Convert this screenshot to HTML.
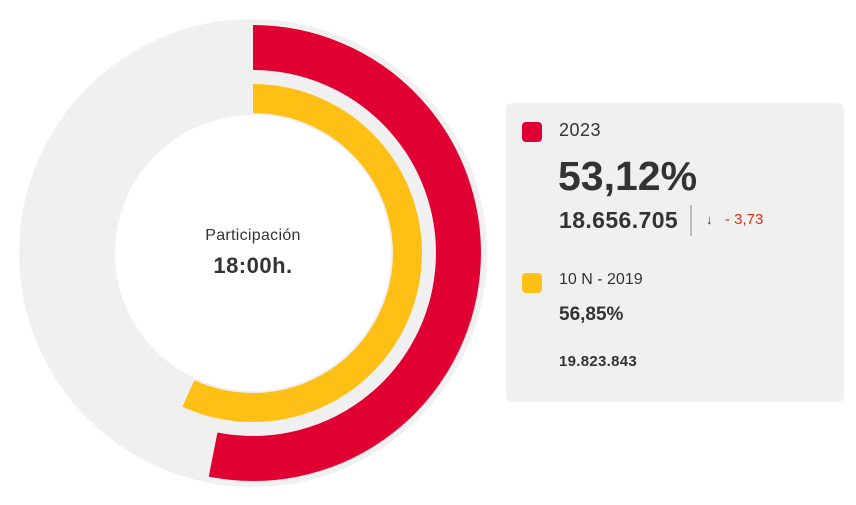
<!DOCTYPE html>
<html><head><meta charset="utf-8"><style>
body{margin:0;width:856px;height:505px;background:#fff;font-family:"Liberation Sans",sans-serif;position:relative;overflow:hidden}
.t{position:absolute;white-space:nowrap;color:#333}
</style></head><body>
<svg width="856" height="505" style="position:absolute;left:0;top:0">
<circle cx="253" cy="253" r="186" fill="none" stroke="#f0f0f0" stroke-width="96"/>
<path d="M253 47.5 A205.5 205.5 0 1 1 213.1 454.6" fill="none" stroke="#e00032" stroke-width="45" stroke-linejoin="round"/>
<path d="M253 98.5 A154.5 154.5 0 1 1 188.4 393.4" fill="none" stroke="#fec014" stroke-width="29"/>
<rect x="506" y="103" width="338" height="299" rx="6" fill="#f0f0f0"/>
<rect x="522" y="122" width="20" height="20" rx="4" fill="#e00032"/>
<rect x="522" y="273" width="20" height="20" rx="4" fill="#fec014"/>
<rect x="690" y="205" width="2" height="31" fill="#bbb"/>
</svg>
<div class="t" style="left:0;width:506px;text-align:center;top:227px;font-size:16px;letter-spacing:0.3px">Participación</div>
<div class="t" style="left:0;width:506px;text-align:center;top:253px;font-size:22px;font-weight:bold;letter-spacing:0.5px">18:00h.</div>
<div class="t" style="left:559px;top:120px;font-size:18px;letter-spacing:0.5px">2023</div>
<div class="t" style="left:558px;top:153px;font-size:41px;font-weight:bold">53,12%</div>
<div class="t" style="left:559px;top:207px;font-size:23px;font-weight:bold;letter-spacing:0.4px">18.656.705</div>
<div class="t" style="left:706px;top:212px;font-size:13px">↓</div>
<div class="t" style="left:725px;top:211px;font-size:15px;color:#d9301c">- 3,73</div>
<div class="t" style="left:559px;top:271px;font-size:16px">10 N - 2019</div>
<div class="t" style="left:559px;top:304px;font-size:19px;font-weight:bold">56,85%</div>
<div class="t" style="left:559px;top:353px;font-size:15px;font-weight:bold;letter-spacing:0.3px">19.823.843</div>
</body></html>
